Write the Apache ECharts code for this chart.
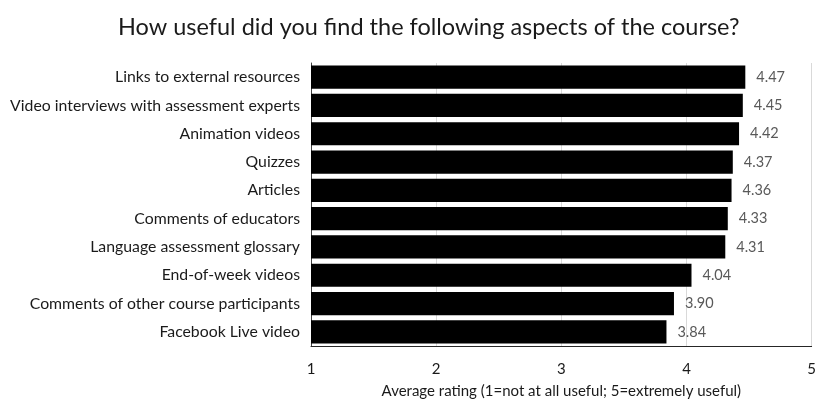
<!DOCTYPE html>
<html>
<head>
<meta charset="utf-8">
<script src="https://cdn.jsdelivr.net/npm/echarts@6/dist/echarts.min.js"></script>
<style>
  html, body { margin: 0; padding: 0; background: #ffffff; }
  #chart { width: 819px; height: 404px; }
</style>
</head>
<body>
<div id="chart"></div>
<script>
// Course aspects, listed bottom-to-top as the category axis draws them
const aspects = [
  'Facebook Live video',
  'Comments of other course participants',
  'End-of-week videos',
  'Language assessment glossary',
  'Comments of educators',
  'Articles',
  'Quizzes',
  'Animation videos',
  'Video interviews with assessment experts',
  'Links to external resources'
];
const ratings = [3.84, 3.90, 4.04, 4.31, 4.33, 4.36, 4.37, 4.42, 4.45, 4.47];
const ratingTicks = [1, 2, 3, 4, 5];

const fontFamily = 'Lato, "Open Sans", sans-serif';

const chart = echarts.init(document.getElementById('chart'), null, { renderer: 'canvas' });
chart.setOption({
  backgroundColor: '#ffffff',
  animation: false,
  title: {
    text: 'How useful did you find the following aspects of the course?',
    left: 113,
    top: 10,
    textStyle: { fontFamily, fontSize: 23.5, fontWeight: 'normal', color: '#1a1a1a' }
  },
  grid: { left: 311, right: 3, top: 63, bottom: 56, containLabel: false },
  xAxis: {
    type: 'value',
    min: ratingTicks[0],
    max: ratingTicks[ratingTicks.length - 1],
    interval: 1,
    name: 'Average rating (1=not at all useful; 5=extremely useful)',
    nameLocation: 'middle',
    nameGap: 38,
    nameTextStyle: { fontFamily, fontSize: 15, color: '#1a1a1a' },
    axisLine: { show: true, lineStyle: { color: '#262626', width: 1 } },
    axisTick: { show: false },
    axisLabel: { fontFamily, fontSize: 15, color: '#1a1a1a', margin: 16 },
    splitLine: { show: true, lineStyle: { color: '#d9d9d9', width: 1 } }
  },
  yAxis: {
    type: 'category',
    data: aspects,
    axisLine: { show: true, lineStyle: { color: '#404040', width: 1 } },
    axisTick: { show: false },
    axisLabel: { fontFamily, fontSize: 15.8, color: '#1a1a1a', margin: 11 }
  },
  series: [{
    type: 'bar',
    data: ratings,
    barCategoryGap: '18%',
    itemStyle: { color: '#000000' },
    label: {
      show: true,
      position: 'right',
      distance: 11,
      formatter: p => p.value.toFixed(2),
      fontFamily,
      fontSize: 14.5,
      color: '#595959'
    }
  }]
});
</script>
</body>
</html>
